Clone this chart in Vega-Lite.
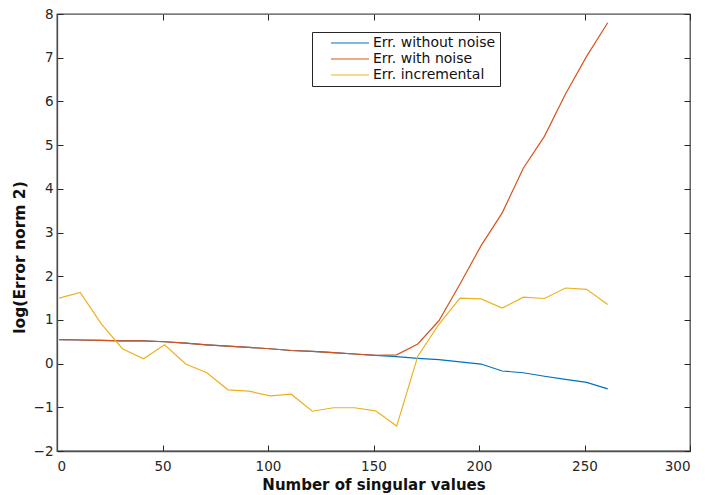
{
  "$schema": "https://vega.github.io/schema/vega-lite/v6.json",
  "autosize": {"type": "none"},
  "width": 633,
  "height": 437,
  "padding": {"left": 57, "top": 14, "right": 16, "bottom": 44},
  "background": "white",
  "config": {
    "font": "DejaVu Sans",
    "view": {"stroke": "#4d4d4d", "strokeWidth": 1.3},
    "axis": {
      "grid": false,
      "domainColor": "#4d4d4d",
      "domainWidth": 1.3,
      "tickColor": "#262626",
      "labelColor": "#262626",
      "labelFont": "DejaVu Sans",
      "labelFontSize": 13.5,
      "titleFont": "DejaVu Sans",
      "titleFontSize": 15,
      "titleFontWeight": "bold",
      "titleColor": "#111111",
      "tickSize": -6,
      "labelPadding": 10
    }
  },
  "data": {
    "values": [
      {"n": 1, "err": 0.55, "s": "Err. without noise"},
      {"n": 11, "err": 0.54, "s": "Err. without noise"},
      {"n": 21, "err": 0.53, "s": "Err. without noise"},
      {"n": 31, "err": 0.52, "s": "Err. without noise"},
      {"n": 41, "err": 0.52, "s": "Err. without noise"},
      {"n": 51, "err": 0.5, "s": "Err. without noise"},
      {"n": 61, "err": 0.47, "s": "Err. without noise"},
      {"n": 71, "err": 0.43, "s": "Err. without noise"},
      {"n": 81, "err": 0.4, "s": "Err. without noise"},
      {"n": 91, "err": 0.37, "s": "Err. without noise"},
      {"n": 101, "err": 0.34, "s": "Err. without noise"},
      {"n": 111, "err": 0.3, "s": "Err. without noise"},
      {"n": 121, "err": 0.28, "s": "Err. without noise"},
      {"n": 131, "err": 0.25, "s": "Err. without noise"},
      {"n": 141, "err": 0.22, "s": "Err. without noise"},
      {"n": 151, "err": 0.19, "s": "Err. without noise"},
      {"n": 161, "err": 0.16, "s": "Err. without noise"},
      {"n": 171, "err": 0.12, "s": "Err. without noise"},
      {"n": 181, "err": 0.09, "s": "Err. without noise"},
      {"n": 191, "err": 0.04, "s": "Err. without noise"},
      {"n": 201, "err": -0.01, "s": "Err. without noise"},
      {"n": 211, "err": -0.17, "s": "Err. without noise"},
      {"n": 221, "err": -0.21, "s": "Err. without noise"},
      {"n": 231, "err": -0.29, "s": "Err. without noise"},
      {"n": 241, "err": -0.36, "s": "Err. without noise"},
      {"n": 251, "err": -0.43, "s": "Err. without noise"},
      {"n": 261, "err": -0.58, "s": "Err. without noise"},
      {"n": 1, "err": 0.55, "s": "Err. with noise"},
      {"n": 11, "err": 0.54, "s": "Err. with noise"},
      {"n": 21, "err": 0.53, "s": "Err. with noise"},
      {"n": 31, "err": 0.52, "s": "Err. with noise"},
      {"n": 41, "err": 0.52, "s": "Err. with noise"},
      {"n": 51, "err": 0.5, "s": "Err. with noise"},
      {"n": 61, "err": 0.47, "s": "Err. with noise"},
      {"n": 71, "err": 0.43, "s": "Err. with noise"},
      {"n": 81, "err": 0.4, "s": "Err. with noise"},
      {"n": 91, "err": 0.37, "s": "Err. with noise"},
      {"n": 101, "err": 0.34, "s": "Err. with noise"},
      {"n": 111, "err": 0.3, "s": "Err. with noise"},
      {"n": 121, "err": 0.28, "s": "Err. with noise"},
      {"n": 131, "err": 0.25, "s": "Err. with noise"},
      {"n": 141, "err": 0.22, "s": "Err. with noise"},
      {"n": 151, "err": 0.19, "s": "Err. with noise"},
      {"n": 161, "err": 0.2, "s": "Err. with noise"},
      {"n": 171, "err": 0.45, "s": "Err. with noise"},
      {"n": 181, "err": 0.98, "s": "Err. with noise"},
      {"n": 191, "err": 1.82, "s": "Err. with noise"},
      {"n": 201, "err": 2.7, "s": "Err. with noise"},
      {"n": 211, "err": 3.45, "s": "Err. with noise"},
      {"n": 221, "err": 4.47, "s": "Err. with noise"},
      {"n": 231, "err": 5.2, "s": "Err. with noise"},
      {"n": 241, "err": 6.17, "s": "Err. with noise"},
      {"n": 251, "err": 7.03, "s": "Err. with noise"},
      {"n": 261, "err": 7.8, "s": "Err. with noise"},
      {"n": 1, "err": 1.5, "s": "Err. incremental"},
      {"n": 11, "err": 1.63, "s": "Err. incremental"},
      {"n": 21, "err": 0.91, "s": "Err. incremental"},
      {"n": 31, "err": 0.34, "s": "Err. incremental"},
      {"n": 41, "err": 0.11, "s": "Err. incremental"},
      {"n": 51, "err": 0.43, "s": "Err. incremental"},
      {"n": 61, "err": -0.01, "s": "Err. incremental"},
      {"n": 71, "err": -0.21, "s": "Err. incremental"},
      {"n": 81, "err": -0.6, "s": "Err. incremental"},
      {"n": 91, "err": -0.63, "s": "Err. incremental"},
      {"n": 101, "err": -0.74, "s": "Err. incremental"},
      {"n": 111, "err": -0.7, "s": "Err. incremental"},
      {"n": 121, "err": -1.09, "s": "Err. incremental"},
      {"n": 131, "err": -1.01, "s": "Err. incremental"},
      {"n": 141, "err": -1.01, "s": "Err. incremental"},
      {"n": 151, "err": -1.08, "s": "Err. incremental"},
      {"n": 161, "err": -1.43, "s": "Err. incremental"},
      {"n": 171, "err": 0.17, "s": "Err. incremental"},
      {"n": 181, "err": 0.9, "s": "Err. incremental"},
      {"n": 191, "err": 1.5, "s": "Err. incremental"},
      {"n": 201, "err": 1.48, "s": "Err. incremental"},
      {"n": 211, "err": 1.27, "s": "Err. incremental"},
      {"n": 221, "err": 1.52, "s": "Err. incremental"},
      {"n": 231, "err": 1.49, "s": "Err. incremental"},
      {"n": 241, "err": 1.73, "s": "Err. incremental"},
      {"n": 251, "err": 1.7, "s": "Err. incremental"},
      {"n": 261, "err": 1.35, "s": "Err. incremental"}
    ]
  },
  "layer": [
    {
      "mark": {"type": "line", "strokeWidth": 1.2},
      "encoding": {
        "x": {
          "field": "n", "type": "quantitative",
          "scale": {"domain": [0, 300], "nice": false, "zero": false},
          "axis": {"values": [0, 50, 100, 150, 200, 250, 300], "title": "Number of singular values", "orient": "bottom", "titlePadding": 5, "labelPadding": 14}
        },
        "y": {
          "field": "err", "type": "quantitative",
          "scale": {"domain": [-2, 8], "nice": false, "zero": false},
          "axis": {"values": [-2, -1, 0, 1, 2, 3, 4, 5, 6, 7, 8], "title": "log(Error norm 2)", "orient": "left", "titlePadding": 6, "titleFontSize": 15.5, "titleY": 243}
        },
        "color": {
          "field": "s", "type": "nominal",
          "scale": {
            "domain": ["Err. without noise", "Err. with noise", "Err. incremental"],
            "range": ["#0072BD", "#D95319", "#EDB120"]
          },
          "legend": {
            "title": null,
            "orient": "none",
            "legendX": 255,
            "legendY": 18,
            "symbolType": "M1.6,0H9.2",
            "symbolSize": 100,
            "symbolStrokeWidth": 1.2,
            "labelFontSize": 14,
            "labelColor": "#111111",
            "labelFont": "DejaVu Sans",
            "fillColor": "white",
            "strokeColor": "#262626",
            "padding": 4,
            "rowPadding": 2,
            "labelOffset": 43
          }
        }
      }
    },
    {
      "mark": {"type": "point", "opacity": 0},
      "encoding": {
        "x": {
          "field": "n", "type": "quantitative",
          "axis": {"values": [0, 50, 100, 150, 200, 250, 300], "orient": "top", "labels": false, "title": null, "domain": false}
        },
        "y": {
          "field": "err", "type": "quantitative",
          "axis": {"values": [-2, -1, 0, 1, 2, 3, 4, 5, 6, 7, 8], "orient": "right", "labels": false, "title": null, "domain": false}
        }
      }
    }
  ],
  "resolve": {"axis": {"x": "independent", "y": "independent"}}
}
